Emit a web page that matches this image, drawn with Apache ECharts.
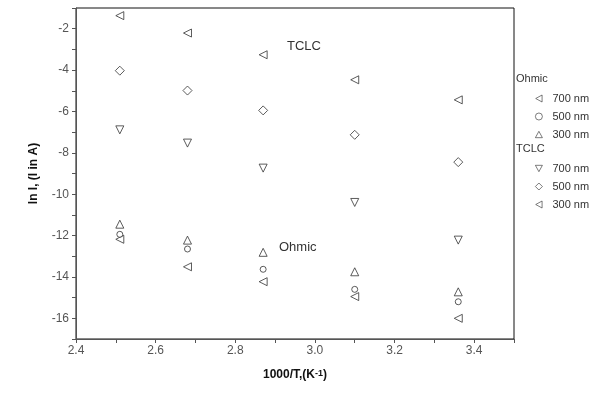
<!DOCTYPE html>
<html>
<head>
<meta charset="utf-8">
<script src="https://cdn.jsdelivr.net/npm/echarts@6/dist/echarts.min.js"></script>
<style>
  html, body { margin: 0; padding: 0; background: #fff; }
  #chart { width: 598px; height: 407px; }
</style>
</head>
<body>
<div id="chart"></div>
<script>
// 1000/T values of the five measurement columns
var xVals = [2.51, 2.68, 2.87, 3.10, 3.36];

var ohmic700 = [-12.18, -13.51, -14.23, -14.95, -16.0];
var ohmic500 = [-11.94, -12.65, -13.63, -14.6, -15.2];
var ohmic300 = [-11.45, -12.22, -12.81, -13.75, -14.72];
var tclc700 = [-6.89, -7.53, -8.74, -10.4, -12.22];
var tclc500 = [-4.03, -4.99, -5.95, -7.13, -8.45];
var tclc300 = [-1.37, -2.21, -3.26, -4.47, -5.44];

var ohmicNames = ['Ohmic 700 nm', 'Ohmic 500 nm', 'Ohmic 300 nm'];
var tclcNames = ['TCLC 700 nm', 'TCLC 500 nm', 'TCLC 300 nm'];

var font = 'Liberation Sans, Arial, sans-serif';
var ink = '#333';

// open marker shapes (same look in plot and legend)
var leftTri = 'path://M10,0 L0,5.5 L10,11 Z';
var upTri = 'path://M0,10 L5.5,0 L11,10 Z';
var downTri = 'path://M0,0 L11,0 L5.5,10 Z';

function pairs(ys) {
    var out = [];
    for (var i = 0; i < xVals.length; i++) {
        out.push([xVals[i], ys[i]]);
    }
    return out;
}

function scatter(name, ys, symbol, size) {
    return {
        name: name,
        type: 'scatter',
        data: pairs(ys),
        symbol: symbol,
        symbolSize: size,
        itemStyle: {
            color: '#fff',
            borderColor: ink,
            borderWidth: 1
        },
        emphasis: { disabled: true }
    };
}

function legendBlock(names, icons, top) {
    var items = [];
    for (var i = 0; i < names.length; i++) {
        items.push({ name: names[i], icon: icons[i] });
    }
    return {
        data: items,
        orient: 'vertical',
        left: 530,
        top: top,
        itemWidth: 7,
        itemHeight: 7,
        itemGap: 7,
        selectedMode: false,
        itemStyle: { borderWidth: 0.8 },
        formatter: function (name) {
            return '{t|' + name.split(' ').slice(1).join(' ') + '}';
        },
        textStyle: {
            fontFamily: font, fontSize: 11, color: ink,
            rich: { t: { fontFamily: font, fontSize: 11, color: ink, padding: [0, 0, 0, 5] } }
        }
    };
}

var myChart = echarts.init(document.getElementById('chart'));
var option = {
    backgroundColor: '#fff',
    animation: false,
    grid: {
        left: 76,
        right: 84,
        top: 8,
        bottom: 68,
        show: true,
        borderColor: '#111',
        borderWidth: 1
    },
    xAxis: {
        type: 'value',
        min: 2.4,
        max: 3.5,
        interval: 0.1,
        name: '{b|1000/T,(K}{s|-1}{b|)}',
        nameLocation: 'middle',
        nameGap: 30,
        nameTextStyle: {
            rich: {
                b: { fontFamily: font, fontSize: 12, fontWeight: 'bold', color: '#111' },
                s: { fontFamily: font, fontSize: 9, fontWeight: 'bold', color: '#111', verticalAlign: 'top' }
            }
        },
        axisLine: { lineStyle: { color: '#555', width: 1 } },
        axisTick: { length: 4, lineStyle: { color: '#555' } },
        splitLine: { show: false },
        axisLabel: {
            fontFamily: font,
            fontSize: 12,
            color: '#555',
            margin: 6,
            formatter: function (v) {
                return Math.round(v * 10) % 2 === 0 ? v.toFixed(1) : '';
            }
        }
    },
    yAxis: {
        type: 'value',
        min: -17,
        max: -1,
        interval: 1,
        name: 'ln I, (I in A)',
        nameLocation: 'middle',
        nameGap: 36,
        nameTextStyle: { fontFamily: font, fontSize: 12, fontWeight: 'bold', color: '#111' },
        axisLine: { lineStyle: { color: '#555', width: 1 } },
        axisTick: { length: 4, lineStyle: { color: '#555' } },
        splitLine: { show: false },
        axisLabel: {
            fontFamily: font,
            fontSize: 12,
            color: '#555',
            margin: 7,
            formatter: function (v) {
                return Math.round(v) % 2 === 0 ? String(Math.round(v)) : '';
            }
        }
    },
    legend: [
        legendBlock(ohmicNames, [leftTri, 'circle', upTri], 88),
        legendBlock(tclcNames, [downTri, 'diamond', leftTri], 158)
    ],
    graphic: [
        { type: 'text', left: 516, top: 73, style: { text: 'Ohmic', fontFamily: font, fontSize: 11, fill: ink } },
        { type: 'text', left: 516, top: 143, style: { text: 'TCLC', fontFamily: font, fontSize: 11, fill: ink } },
        { type: 'text', left: 287, top: 40, style: { text: 'TCLC', fontFamily: font, fontSize: 13, fill: ink } },
        { type: 'text', left: 279, top: 241, style: { text: 'Ohmic', fontFamily: font, fontSize: 13, fill: ink } }
    ],
    series: [
        scatter('Ohmic 700 nm', ohmic700, leftTri, 8),
        scatter('Ohmic 500 nm', ohmic500, 'circle', 6),
        scatter('Ohmic 300 nm', ohmic300, upTri, 8),
        scatter('TCLC 700 nm', tclc700, downTri, 8),
        scatter('TCLC 500 nm', tclc500, 'diamond', 9),
        scatter('TCLC 300 nm', tclc300, leftTri, 8)
    ]
};
myChart.setOption(option);
</script>
</body>
</html>
